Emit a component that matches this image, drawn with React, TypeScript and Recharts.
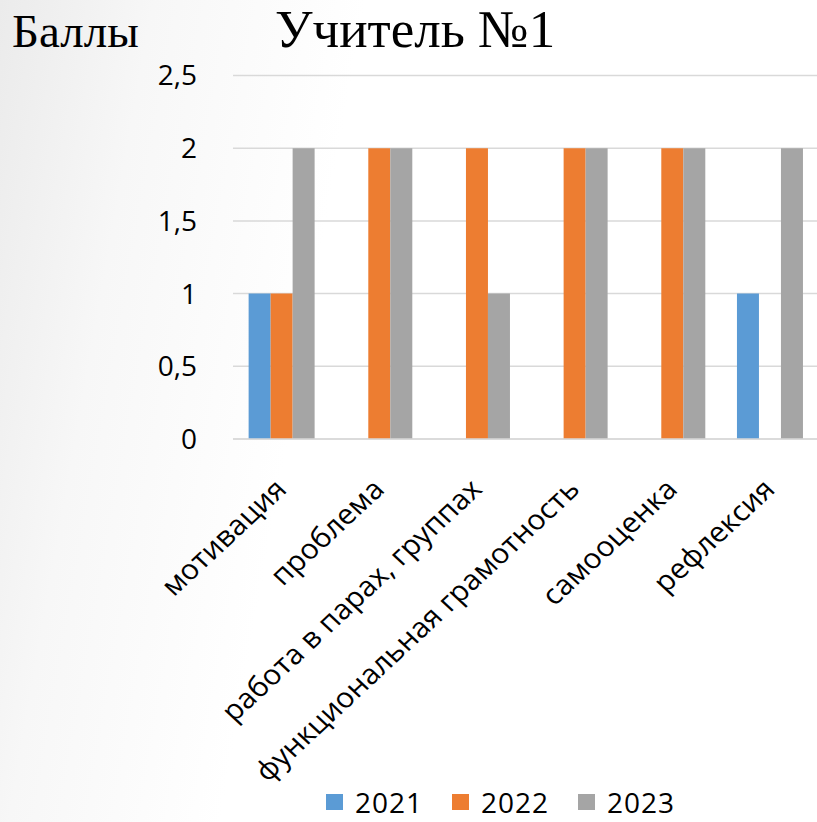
import { Bar, BarChart, CartesianGrid, Legend, XAxis, YAxis } from "recharts";

const categories = [
  "мотивация",
  "проблема",
  "работа в парах, группах",
  "функциональная грамотность",
  "самооценка",
  "рефлексия",
];
const years = ["2021", "2022", "2023"];
const values2021 = [1, 0, 0, 0, 0, 1];
const values2022 = [1, 2, 2, 2, 2, 0];
const values2023 = [2, 2, 1, 2, 2, 2];
const yTicks = [0, 0.5, 1, 1.5, 2, 2.5];
const colors = ["#5B9BD5", "#ED7D31", "#A5A5A5"];

const data = categories.map((name, i) => ({
  name,
  "2021": values2021[i],
  "2022": values2022[i],
  "2023": values2023[i],
}));

const font = "'Open Sans', sans-serif";

// the source picture is a bit wider than tall, so labels get a small x-stretch
function CategoryTick({ x, y, payload }: any) {
  return (
    <g transform={`translate(${x - 1},${y + 45}) scale(1.075,1) rotate(-45)`}>
      <text textAnchor="end" dy="0.35em" fontSize={28} fontFamily={font} fill="#000">
        {payload.value}
      </text>
    </g>
  );
}

function YearLegend() {
  return (
    <div style={{ display: "flex", alignItems: "center", fontFamily: font, fontSize: 28, color: "#000" }}>
      {years.map((y, i) => (
        <div key={y} style={{ display: "flex", alignItems: "center", marginRight: 29 }}>
          <span style={{ width: 17, height: 16, background: colors[i], display: "inline-block", marginRight: 12 }} />
          <span style={{ lineHeight: "28px", letterSpacing: 1 }}>{y}</span>
        </div>
      ))}
    </div>
  );
}

export default function App() {
  return (
    <div
      style={{
        position: "absolute",
        left: 0,
        top: 0,
        width: 817,
        height: 822,
        overflow: "hidden",
        background: "linear-gradient(100deg, #ebebeb 0%, #f7f7f7 16%, #ffffff 38%, #ffffff 100%)",
      }}
    >
      <svg width={817} height={80} style={{ position: "absolute", left: 0, top: 0 }}>
        <text x={12} y={47} fontFamily="'Liberation Serif', serif" fontSize={47} fill="#000">
          Баллы
        </text>
        <text x={275} y={47} fontFamily="'Liberation Serif', serif" fontSize={53} fill="#000">
          Учитель №1
        </text>
      </svg>
      <div style={{ position: "absolute", left: 0, top: 0 }}>
        <BarChart
          width={819}
          height={822}
          data={data}
          margin={{ top: 75.5, right: 0, bottom: 0, left: 0 }}
          barCategoryGap="16%"
          barGap={0}
        >
          <CartesianGrid vertical={false} stroke="#d9d9d9" strokeWidth={1.5} />
          <XAxis
            dataKey="name"
            height={383}
            interval={0}
            tick={<CategoryTick />}
            tickLine={false}
            tickSize={0}
            tickMargin={0}
            axisLine={{ stroke: "#d9d9d9", strokeWidth: 1.5 }}
          />
          <YAxis
            width={233}
            domain={[0, 2.5]}
            ticks={yTicks}
            tickFormatter={(v: number) => String(v).replace(".", ",")}
            tick={{ fill: "#000", fontSize: 28, fontFamily: font }}
            tickLine={false}
            tickSize={0}
            tickMargin={36}
            axisLine={false}
          />
          <Legend
            verticalAlign="middle"
            align="center"
            layout="horizontal"
            content={<YearLegend />}
            wrapperStyle={{ top: 788, left: 326, width: 420 }}
          />
          {years.map((y, i) => (
            <Bar key={y} dataKey={y} fill={colors[i]} isAnimationActive={false} />
          ))}
        </BarChart>
      </div>
    </div>
  );
}
